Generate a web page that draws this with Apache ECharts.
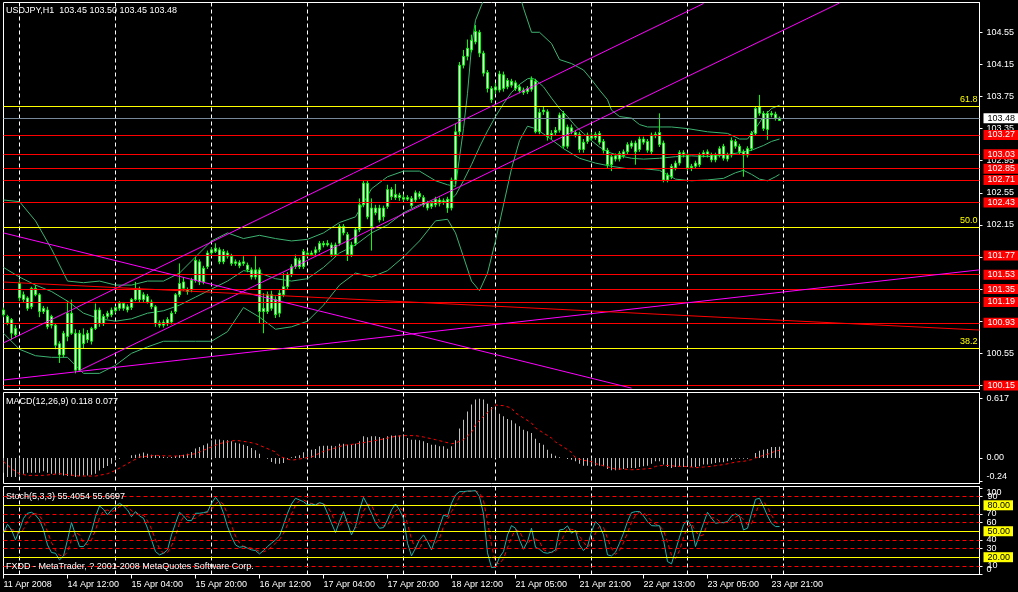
<!DOCTYPE html>
<html><head><meta charset="utf-8">
<script src="https://cdn.jsdelivr.net/npm/echarts@6/dist/echarts.min.js"></script>
<style>html,body{margin:0;padding:0;background:#000;}#c{width:1018px;height:592px;}</style>
</head><body><div id="c"></div>
<script>
// ---------------- DATA ----------------
const open = [
101.09,101.01,100.97,100.78,101.24,101.28,101.24,101.13,101.36,101.28,
101.11,101.09,101.01,100.90,100.67,100.53,100.76,101.05,100.80,100.34,
100.78,100.72,100.70,100.86,101.09,100.92,101.01,101.03,101.08,101.11,
101.17,101.13,101.12,101.22,101.35,101.22,101.26,101.19,101.13,100.90,
100.94,100.92,100.94,101.07,101.28,101.44,101.34,101.34,101.46,101.69,
101.44,101.63,101.80,101.82,101.84,101.69,101.80,101.76,101.69,101.68,
101.67,101.65,101.59,101.50,101.59,101.07,101.07,101.28,101.22,101.05,
101.28,101.38,101.53,101.63,101.71,101.63,101.80,101.78,101.80,101.84,
101.92,101.90,101.90,101.78,101.92,102.13,102.03,101.78,101.92,102.09,
102.40,102.67,102.13,102.36,102.21,102.36,102.38,102.59,102.49,102.52,
102.49,102.47,102.48,102.46,102.54,102.49,102.42,102.38,102.40,102.46,
102.43,102.47,102.36,102.71,103.31,104.14,104.25,104.33,104.43,104.55,
104.29,104.05,103.85,103.83,103.83,104.02,103.87,103.94,103.92,103.87,
103.83,103.81,103.84,103.94,103.31,103.56,103.56,103.26,103.30,103.33,
103.54,103.13,103.36,103.30,103.28,103.09,103.19,103.27,103.24,103.29,
103.19,103.08,102.90,103.01,102.97,103.01,103.06,103.13,103.17,103.09,
103.22,103.19,103.06,103.28,103.15,103.17,102.71,102.75,102.86,102.92,
103.05,103.02,102.88,102.88,102.90,103.02,103.02,103.02,102.96,103.02,
103.13,102.97,103.02,103.19,103.13,103.06,103.02,103.10,103.29,103.62,
103.54,103.34,103.54,103.53,103.45];
const close = [
101.03,100.93,100.80,100.86,101.42,101.22,101.11,101.36,101.28,101.07,
101.07,100.88,100.90,100.65,100.53,100.80,101.05,100.80,100.34,100.80,
100.67,100.80,100.86,101.09,100.92,101.01,101.05,101.09,101.12,101.17,
101.11,101.09,101.22,101.35,101.22,101.28,101.19,101.13,100.92,100.93,
100.90,100.97,101.05,101.28,101.42,101.36,101.32,101.46,101.71,101.44,
101.61,101.80,101.84,101.86,101.69,101.82,101.76,101.67,101.67,101.64,
101.69,101.59,101.50,101.59,101.07,101.11,101.28,101.11,101.03,101.30,
101.38,101.53,101.63,101.73,101.63,101.82,101.78,101.80,101.84,101.92,
101.90,101.92,101.78,101.90,102.13,102.05,101.78,101.90,102.09,102.40,
102.67,102.25,102.36,102.30,102.36,102.25,102.59,102.50,102.53,102.49,
102.47,102.49,102.39,102.55,102.50,102.40,102.36,102.42,102.47,102.42,
102.45,102.36,102.71,103.31,104.14,104.25,104.35,104.45,104.56,104.29,
104.04,103.85,103.71,103.87,104.03,103.85,103.95,103.89,103.85,103.82,
103.80,103.85,103.96,103.31,103.55,103.58,103.25,103.29,103.33,103.52,
103.13,103.37,103.31,103.27,103.09,103.18,103.27,103.23,103.28,103.18,
103.08,102.90,103.00,102.97,103.04,103.06,103.15,103.17,103.06,103.22,
103.18,103.08,103.27,103.26,103.30,102.71,102.77,102.88,102.92,103.05,
103.02,102.86,102.86,102.92,103.02,103.05,103.06,102.96,103.02,103.10,
102.98,103.02,103.20,103.13,103.06,103.02,103.10,103.29,103.60,103.54,
103.35,103.54,103.52,103.48,103.48];
const low = [
101.00,100.90,100.72,100.75,101.20,101.18,101.08,101.10,101.26,101.00,
101.04,100.85,100.86,100.60,100.43,100.50,100.70,100.78,100.30,100.32,
100.61,100.68,100.66,100.84,100.88,100.89,100.98,101.00,101.05,101.08,
101.08,101.06,101.09,101.20,101.18,101.19,101.17,101.10,100.88,100.87,
100.87,100.89,100.91,101.04,101.25,101.33,101.28,101.31,101.43,101.40,
101.41,101.60,101.78,101.80,101.66,101.66,101.73,101.64,101.64,101.61,
101.64,101.56,101.47,101.47,100.92,100.80,101.04,101.08,100.99,101.00,
101.25,101.35,101.50,101.60,101.60,101.60,101.75,101.76,101.77,101.81,
101.87,101.88,101.75,101.75,101.89,102.02,101.70,101.75,101.89,102.06,
102.37,102.22,101.83,102.27,102.18,102.20,102.35,102.46,102.46,102.45,
102.44,102.45,102.36,102.43,102.47,102.37,102.33,102.35,102.37,102.38,
102.40,102.30,102.33,102.66,103.25,104.10,104.20,104.30,104.40,104.24,
104.00,103.80,103.67,103.78,103.80,103.81,103.84,103.86,103.82,103.79,
103.77,103.78,103.81,103.29,103.28,103.52,103.20,103.22,103.27,103.30,
103.10,103.10,103.28,103.24,103.05,103.05,103.16,103.20,103.21,103.15,
103.04,102.86,102.82,102.94,102.94,102.98,103.03,103.10,102.90,103.06,
103.15,103.05,103.03,103.23,103.12,102.68,102.68,102.72,102.83,102.89,
102.99,102.83,102.82,102.85,102.87,102.99,102.99,102.93,102.93,102.99,
102.95,102.94,102.99,103.10,103.03,102.75,102.99,103.07,103.26,103.51,
103.32,103.21,103.49,103.45,103.45];
const high = [
101.12,101.03,100.99,100.90,101.46,101.32,101.26,101.38,101.40,101.30,
101.14,101.13,101.03,100.92,100.70,100.83,101.20,101.22,100.85,100.84,
100.86,100.84,100.88,101.17,101.12,101.04,101.08,101.12,101.14,101.20,
101.19,101.16,101.24,101.44,101.38,101.31,101.29,101.22,101.15,100.96,
100.97,101.00,101.08,101.30,101.67,101.50,101.37,101.49,101.75,101.72,
101.64,101.83,101.87,101.92,101.87,101.85,101.83,101.79,101.72,101.71,
101.76,101.68,101.62,101.76,101.62,101.30,101.32,101.33,101.26,101.35,
101.55,101.56,101.66,101.78,101.74,101.85,101.83,101.83,101.88,101.95,
101.95,101.96,101.93,101.93,102.16,102.16,102.06,101.94,102.12,102.48,
102.70,102.70,102.48,102.40,102.40,102.39,102.65,102.62,102.66,102.55,
102.53,102.52,102.51,102.58,102.57,102.52,102.45,102.45,102.50,102.49,
102.48,102.50,102.74,103.41,104.18,104.33,104.46,104.52,104.64,104.58,
104.32,104.08,103.88,103.92,104.07,104.06,103.98,103.97,103.95,103.90,
103.86,103.88,104.00,103.97,103.60,103.62,103.59,103.33,103.37,103.55,
103.57,103.40,103.40,103.33,103.31,103.22,103.30,103.30,103.31,103.32,
103.22,103.11,103.03,103.04,103.07,103.09,103.18,103.20,103.20,103.25,
103.25,103.22,103.30,103.31,103.54,103.20,102.80,102.91,102.95,103.08,
103.08,103.05,102.91,102.95,103.05,103.08,103.09,103.05,103.05,103.13,
103.16,103.05,103.24,103.22,103.16,103.09,103.13,103.32,103.63,103.77,
103.57,103.57,103.57,103.56,103.50];

// Bollinger bands ([bar, price])
const bbUpper = [[0,102.46],[4,102.44],[8,102.20],[12,101.85],[16,101.45],[20,101.43],[24,101.45],[28,101.40],[32,101.40],[36,101.45],[40,101.45],[44,101.55],[48,101.75],[52,101.95],[56,102.05],[60,101.98],[64,102.02],[68,101.98],[72,101.95],[76,101.97],[80,102.05],[84,102.18],[88,102.25],[92,102.60],[96,102.75],[100,102.82],[104,102.82],[108,102.70],[111,102.65],[113,102.63],[115,103.35],[116,103.79],[117,104.37],[118,104.70],[120,104.95],[122,105.30],[125,105.50],[128,105.20],[130,104.85],[132,104.55],[134,104.55],[137,104.41],[139,104.21],[142,104.16],[145,104.08],[147,103.96],[149,103.83],[151,103.71],[152,103.58],[154,103.50],[157,103.48],[159,103.40],[161,103.37],[167,103.37],[171,103.35],[176,103.31],[181,103.29],[184,103.22],[186,103.22],[188,103.35],[190,103.50],[192,103.60],[194,103.64]];
const bbMiddle = [[0,101.62],[4,101.50],[8,101.40],[12,101.32],[16,101.20],[20,101.05],[24,100.98],[28,100.95],[32,100.98],[36,101.05],[40,101.08],[44,101.15],[48,101.25],[52,101.35],[56,101.45],[60,101.58],[64,101.55],[68,101.48],[72,101.45],[76,101.48],[80,101.62],[84,101.80],[88,101.90],[92,102.05],[96,102.15],[100,102.30],[104,102.40],[108,102.45],[111,102.44],[113,102.52],[115,102.70],[117,102.90],[119,103.12],[121,103.32],[123,103.50],[125,103.66],[127,103.80],[129,103.90],[131,103.97],[132,103.98],[133,103.96],[135,103.87],[137,103.73],[139,103.60],[141,103.50],[143,103.38],[145,103.29],[147,103.20],[149,103.12],[151,103.06],[154,103.01],[157,102.98],[160,102.97],[164,102.98],[168,103.00],[172,103.01],[176,103.00],[180,103.02],[184,103.05],[187,103.08],[190,103.14],[192,103.19],[194,103.22]];
const bbLower = [[0,100.80],[4,100.60],[8,100.52],[12,100.50],[16,100.50],[20,100.30],[24,100.30],[28,100.40],[32,100.55],[36,100.63],[40,100.70],[44,100.70],[48,100.70],[52,100.70],[56,100.82],[60,101.12],[64,101.00],[68,100.85],[72,100.88],[76,100.95],[80,101.15],[84,101.40],[88,101.55],[92,101.50],[96,101.58],[100,101.75],[104,101.95],[108,102.20],[111,102.22],[113,102.05],[115,101.75],[117,101.45],[119,101.33],[121,101.55],[123,101.95],[125,102.40],[127,102.85],[129,103.20],[131,103.38],[133,103.35],[136,103.25],[140,103.10],[144,102.98],[148,102.92],[152,102.88],[156,102.85],[160,102.85],[164,102.83],[168,102.72],[172,102.70],[176,102.71],[180,102.73],[183,102.80],[185,102.83],[187,102.78],[189,102.72],[191,102.70],[193,102.75],[194,102.78]];

const macdHist = [
-0.153,-0.199,-0.199,-0.199,-0.181,-0.164,-0.153,-0.153,-0.153,-0.153,
-0.139,-0.153,-0.164,-0.164,-0.174,-0.181,-0.188,-0.188,-0.199,-0.188,
-0.181,-0.181,-0.174,-0.164,-0.129,-0.105,-0.084,-0.059,-0.024,-0.007,
0.000,0.000,0.028,0.035,0.045,0.056,0.045,0.035,0.028,0.021,
0.014,0.007,0.010,0.021,0.028,0.035,0.045,0.063,0.098,0.115,
0.132,0.150,0.185,0.192,0.192,0.185,0.185,0.174,0.160,0.150,
0.139,0.125,0.105,0.080,0.045,0.000,-0.007,-0.042,-0.059,-0.059,
-0.052,-0.014,0.007,0.017,0.028,0.059,0.069,0.087,0.094,0.122,
0.128,0.128,0.128,0.122,0.149,0.149,0.139,0.139,0.149,0.174,
0.226,0.215,0.226,0.226,0.219,0.208,0.226,0.233,0.233,0.233,
0.243,0.208,0.191,0.191,0.184,0.174,0.156,0.139,0.139,0.122,
0.122,0.097,0.122,0.184,0.306,0.399,0.483,0.556,0.608,0.618,
0.608,0.566,0.531,0.503,0.462,0.434,0.406,0.392,0.358,0.330,
0.295,0.278,0.260,0.201,0.156,0.139,0.087,0.045,0.024,0.007,
0.000,-0.010,-0.017,-0.035,-0.059,-0.080,-0.080,-0.069,-0.080,-0.080,
-0.087,-0.115,-0.128,-0.128,-0.122,-0.115,-0.104,-0.104,-0.104,-0.094,
-0.087,-0.080,-0.059,-0.035,-0.035,-0.069,-0.094,-0.104,-0.094,-0.087,
-0.094,-0.094,-0.094,-0.094,-0.087,-0.069,-0.069,-0.059,-0.052,-0.045,
-0.045,-0.035,-0.017,-0.007,-0.007,-0.007,-0.007,0.000,0.052,0.076,
0.087,0.094,0.115,0.115,0.118];
const macdSignal = [[0,-0.035],[2,-0.111],[4,-0.164],[6,-0.181],[10,-0.181],[14,-0.164],[19,-0.188],[23,-0.188],[26,-0.164],[28,-0.129],[31,-0.059],[34,0.010],[38,0.028],[41,0.021],[44,0.021],[48,0.045],[51,0.098],[54,0.150],[58,0.185],[61,0.167],[63,0.150],[65,0.115],[68,0.063],[69,0.017],[72,-0.024],[77,0.010],[80,0.069],[83,0.104],[85,0.132],[88,0.146],[92,0.174],[95,0.198],[98,0.226],[100,0.233],[103,0.233],[105,0.219],[108,0.191],[112,0.149],[113,0.156],[115,0.191],[117,0.267],[118,0.347],[120,0.434],[122,0.510],[123,0.552],[125,0.545],[127,0.521],[128,0.469],[130,0.417],[132,0.365],[133,0.312],[135,0.260],[137,0.208],[138,0.167],[140,0.115],[142,0.059],[143,0.000],[145,-0.024],[147,-0.038],[148,-0.059],[150,-0.080],[152,-0.104],[153,-0.115],[155,-0.115],[157,-0.122],[158,-0.122],[160,-0.115],[162,-0.108],[163,-0.087],[165,-0.076],[167,-0.080],[168,-0.087],[170,-0.087],[172,-0.094],[173,-0.101],[175,-0.094],[177,-0.087],[178,-0.080],[180,-0.069],[182,-0.052],[183,-0.042],[185,-0.035],[187,-0.017],[188,0.000],[190,0.028],[192,0.052],[193,0.076],[194,0.077]];

const stochMain = [
47.7,58.1,51.5,40,51.5,65,70.8,71.9,68.8,63.1,
51.5,34.2,25.4,24.6,16.9,21.5,40,60,45.8,32.3,
32.3,38.1,49.6,66.9,79.2,75.4,68.8,74.6,78.5,82.3,
79.2,74.6,66.9,72.7,67.7,65,53.5,40,26.5,22.7,
24.6,28.5,45.8,59.2,71.9,67.7,62.3,62.3,70.8,70.8,
71.5,72.7,82.3,89.2,83.1,70.8,55.4,43.8,34.2,31.5,
32.3,30.4,28.5,27.7,23.8,27.7,32.3,36.2,40,44.6,
57.3,70.8,81.5,88.1,86.2,84.2,80.4,81.5,80.4,83.1,
81.5,70.8,59.2,48.5,61.2,72.7,59.2,45.8,55.4,74.6,
89.2,80.4,70.8,60,53.5,54.2,63.1,74.6,81.5,74.6,
65,36.2,21.5,30.4,40,45.8,38.1,28.5,41.9,55.4,
68.8,66.9,82.3,91.9,95.8,95.8,96.5,96.5,96.9,90,
70,25,8,8.5,20,26.5,45.8,56.5,53.5,40,
29.2,38.1,53.5,31.5,29.2,25.4,24.6,25.8,28.5,51.5,
52.3,56.2,47.7,50.8,34.2,27.7,32.3,49.6,61.2,56.5,
45.8,22.7,21.5,25.8,36.2,47.7,61.2,71.5,72.7,72.7,
67.7,61.2,56.5,56.2,56.5,40,15,12.3,27.7,43.1,
57.3,63.1,55.4,32.3,45.8,59.2,71.9,65,59.2,60,
60,61.2,67.7,70,67.7,51.5,53.5,70.8,86.9,88.1,
78.5,67.7,59.2,55.4,55.4];
const stochSignal = [
50,52,52.4,49.9,47.7,52.2,62.4,69.2,70.5,67.9,
61.1,49.6,37,28.1,22.3,21,26.1,40.5,48.6,46,
36.8,34.2,40,51.5,65.2,73.8,74.5,72.9,74,78.5,
80,78.7,73.6,71.4,69.1,68.5,62.1,52.8,40,29.7,
24.6,25.3,33,44.5,59,66.3,67.3,64.1,65.1,68,
71,71.7,75.5,81.4,84.9,81,69.8,56.7,44.5,36.5,
32.7,31.4,30.4,28.9,26.7,26.4,27.9,32.1,36.2,40.3,
47.3,57.6,69.9,80.1,85.3,86.2,83.6,82,80.8,81.7,
81.7,78.5,70.5,59.5,56.3,60.8,64.4,59.2,53.5,58.6,
73.1,81.4,80.1,70.4,61.4,55.9,56.9,64,73.1,76.9,
73.7,58.6,40.9,29.4,30.6,38.7,41.3,37.5,36.2,41.9,
55.4,63.7,72.7,80.4,90,94.5,96,96.3,96.6,94.5,
85.6,61.7,34.3,13.8,12.2,18.3,30.8,42.9,51.9,50,
40.9,35.8,40.3,41,38.1,28.7,26.4,25.3,26.3,35.3,
44.1,53.3,52.1,51.6,44.2,37.6,31.4,36.5,47.7,55.8,
54.5,41.7,30,23.3,27.8,36.6,48.4,60.1,68.5,72.3,
71,67.2,61.8,58,56.4,50.9,37.2,22.4,18.3,27.7,
42.7,54.5,58.6,50.3,44.5,45.8,59,65.4,65.4,61.4,
59.7,60.4,63,66.3,68.5,63.1,57.6,58.6,70.4,81.9,
84.5,78.1,68.5,60.8,55.7];

// Axis / tick labels and reference levels
const categories = Array.from({length: 245}, (_, i) => String(i));
const tickBars = [0,16,32,48,64,80,96,112,128,144,160,176,192];
const tickLabels = ['11 Apr 2008','14 Apr 12:00','15 Apr 04:00','15 Apr 20:00','16 Apr 12:00','17 Apr 04:00','17 Apr 20:00','18 Apr 12:00','21 Apr 05:00','21 Apr 21:00','22 Apr 13:00','23 Apr 05:00','23 Apr 21:00'];
const daySeparators = [4,28,52,76,100,123,147,171,195];
const priceTicks = [100.15,100.55,100.95,101.35,101.75,102.15,102.55,102.95,103.35,103.75,104.15,104.55];
const redLevels = [103.27,103.03,102.85,102.71,102.43,101.77,101.53,101.35,101.19,100.93,100.15];
const fibLevels = [103.63,102.12,100.61];
const fibNames = ['61.8','50.0','38.2'];
const currentPrice = 103.48;
const magentaLines = [[[0,100.68],[175,104.908]],[[19,100.335],[209,104.915]],[[0,102.05],[157,100.116]],[[0,100.217],[244,101.59]]];
const redSlopeLine = [[0,101.438],[244,100.84]];
const macdTicks = [-0.24,0,0.617];
const stochTicks = [0,10,30,40,60,70,90,100];
const stochLabelTicks = [0,30,40,60,70,100];
const stochYellow = [80,50,20];
const stochRed = [90,70,60,40,30,10];
const stochRedLabelled = [90,10];

// ---------------- CHART ----------------
const FONT = 'Liberation Sans, Arial, sans-serif';
const FS = 9;
const tickSet = new Set(tickBars);
const sepSet = new Set(daySeparators);
const ohlc = open.map((o, i) => [o, close[i], low[i], high[i]]);

function xAxisCfg(gi, showLabels) {
  return {
    type: 'category', gridIndex: gi, data: categories, boundaryGap: false,
    axisLine: {show: showLabels, lineStyle: {color: '#fff', width: 1}},
    axisTick: {show: showLabels, interval: (i) => tickSet.has(i), length: 4, lineStyle: {color: '#fff'}},
    axisLabel: {show: showLabels, interval: (i) => tickSet.has(i),
      formatter: (v) => { const k = tickBars.indexOf(Number(v)); return k >= 0 ? tickLabels[k] : ''; },
      align: 'left', color: '#fff', fontSize: FS, fontFamily: FONT, margin: 6},
    splitLine: {show: true, interval: (i) => sepSet.has(i), lineStyle: {color: '#fff', type: [4, 3], width: 1}}
  };
}
function yAxisCfg(gi, min, max, ticks, labelTicks, fmt, rich) {
  return {
    type: 'value', gridIndex: gi, position: 'right', min: min, max: max, scale: true,
    axisLine: {show: true, lineStyle: {color: '#fff'}},
    axisTick: {show: true, customValues: ticks, length: 3, lineStyle: {color: '#fff'}},
    axisLabel: {customValues: labelTicks, showMinLabel: true, showMaxLabel: true, formatter: fmt, color: '#fff', fontSize: FS, fontFamily: FONT, margin: 7, rich: rich || {}},
    splitLine: {show: false}
  };
}
const lblBase = {fontSize: FS, fontFamily: FONT, lineHeight: 9};

const mainMarks = [];
redLevels.forEach(v => mainMarks.push({yAxis: v, lineStyle: {color: '#ff0000', width: 1, type: 'solid'},
  label: Object.assign({show: true, position: 'end', distance: 4, formatter: v.toFixed(2), color: '#fff', backgroundColor: '#ff0000', padding: [1, 3, 0, 4]}, lblBase)}));
fibLevels.forEach((v, k) => mainMarks.push({yAxis: v, lineStyle: {color: '#ffff00', width: 1, type: 'solid'},
  label: {show: true, position: 'insideEndTop', distance: 2, formatter: fibNames[k], color: '#ffff00', fontSize: FS, fontFamily: FONT}}));
mainMarks.push({yAxis: currentPrice, lineStyle: {color: '#778899', width: 1, type: 'solid'},
  label: Object.assign({show: true, position: 'end', distance: 4, formatter: currentPrice.toFixed(2), color: '#000', backgroundColor: '#fff', padding: [1, 3, 0, 4]}, lblBase)});
magentaLines.forEach(l => mainMarks.push([{coord: l[0], lineStyle: {color: '#ff00ff', width: 1, type: 'solid'}, label: {show: false}}, {coord: l[1]}]));
mainMarks.push([{coord: redSlopeLine[0], lineStyle: {color: '#ff0000', width: 1, type: 'solid'}, label: {show: false}}, {coord: redSlopeLine[1]}]);

const stochMarks = [];
stochRed.forEach(v => stochMarks.push({yAxis: v, lineStyle: {color: '#ff0000', width: 1, type: [4, 3]},
  label: stochRedLabelled.includes(v)
    ? {show: true, position: 'end', distance: 8, formatter: String(v), color: '#fff', fontSize: FS, fontFamily: FONT}
    : {show: false}}));
stochYellow.forEach(v => stochMarks.push({yAxis: v, lineStyle: {color: '#ffff00', width: 1, type: 'solid'},
  label: Object.assign({show: true, position: 'end', distance: 4, formatter: v.toFixed(2), color: '#000', backgroundColor: '#ffff00', padding: [1, 3, 0, 4]}, lblBase)}));

const titleStyle = {color: '#fff', fontSize: FS, fontWeight: 'normal', fontFamily: FONT};
const chart = echarts.init(document.getElementById('c'), null, {renderer: 'canvas'});
chart.setOption({
  backgroundColor: '#000',
  animation: false,
  title: [
    {text: 'USDJPY,H1  103.45 103.50 103.45 103.48', left: 6, top: 6, padding: 0, textStyle: titleStyle},
    {text: 'MACD(12,26,9) 0.118 0.077', left: 6, top: 397, padding: 0, textStyle: titleStyle},
    {text: 'Stoch(5,3,3) 55.4054 55.6697', left: 6, top: 492, padding: 0, textStyle: titleStyle},
    {text: 'FXDD - MetaTrader, ? 2001-2008 MetaQuotes Software Corp.', left: 6, top: 562, padding: 0, textStyle: titleStyle}
  ],
  grid: [
    {left: 3.5, width: 976, top: 2.5, height: 387, show: true, borderColor: '#fff', borderWidth: 1},
    {left: 3.5, width: 976, top: 392.5, height: 91, show: true, borderColor: '#fff', borderWidth: 1},
    {left: 3.5, width: 976, top: 486.5, height: 88, show: true, borderColor: '#fff', borderWidth: 1}
  ],
  xAxis: [xAxisCfg(0, false), xAxisCfg(1, false), xAxisCfg(2, true)],
  yAxis: [
    yAxisCfg(0, 100.099, 104.921, priceTicks, priceTicks, v => v.toFixed(2)),
    yAxisCfg(1, -0.2656, 0.682, macdTicks, macdTicks, v => v === 0 ? '0.00' : (v < 0 ? '{lo|' + v.toFixed(2) + '}' : v.toFixed(3)),
      {lo: {padding: [0, 0, 9, 0], color: '#fff', fontSize: FS, fontFamily: FONT}}),
    yAxisCfg(2, 0, 101.73, stochTicks, stochLabelTicks, v => v === 100 ? '{dn|100}' : (v === 0 ? '{up|0}' : String(v)),
      {dn: {padding: [10, 0, 0, 0], color: '#fff', fontSize: FS, fontFamily: FONT}, up: {padding: [0, 0, 10, 0], color: '#fff', fontSize: FS, fontFamily: FONT}})
  ],
  series: [
    {type: 'line', xAxisIndex: 0, yAxisIndex: 0, data: bbUpper, symbol: 'none', silent: true, lineStyle: {color: '#3cb371', width: 1}, z: 1},
    {type: 'line', xAxisIndex: 0, yAxisIndex: 0, data: bbMiddle, symbol: 'none', silent: true, lineStyle: {color: '#3cb371', width: 1}, z: 1},
    {type: 'line', xAxisIndex: 0, yAxisIndex: 0, data: bbLower, symbol: 'none', silent: true, lineStyle: {color: '#3cb371', width: 1}, z: 1},
    {type: 'candlestick', xAxisIndex: 0, yAxisIndex: 0, data: ohlc, barWidth: 3, silent: true,
      itemStyle: {color: '#ffffff', color0: '#ffffff', borderColor: '#00ff00', borderColor0: '#00ff00', borderWidth: 1},
      markLine: {symbol: ['none', 'none'], silent: true, animation: false, data: mainMarks, label: {show: false}}},
    {type: 'bar', xAxisIndex: 1, yAxisIndex: 1, data: macdHist, barWidth: 1, silent: true, itemStyle: {color: '#c0c0c0'}},
    {type: 'line', xAxisIndex: 1, yAxisIndex: 1, data: macdSignal, symbol: 'none', silent: true, lineStyle: {color: '#ff0000', width: 1, type: [3, 3]}},
    {type: 'line', xAxisIndex: 2, yAxisIndex: 2, data: stochSignal, symbol: 'none', silent: true, lineStyle: {color: '#ff0000', width: 1, type: [4, 3]},
      markLine: {symbol: ['none', 'none'], silent: true, animation: false, data: stochMarks}},
    {type: 'line', xAxisIndex: 2, yAxisIndex: 2, data: stochMain, symbol: 'none', silent: true, lineStyle: {color: '#20b2aa', width: 1}}
  ]
});
</script></body></html>
